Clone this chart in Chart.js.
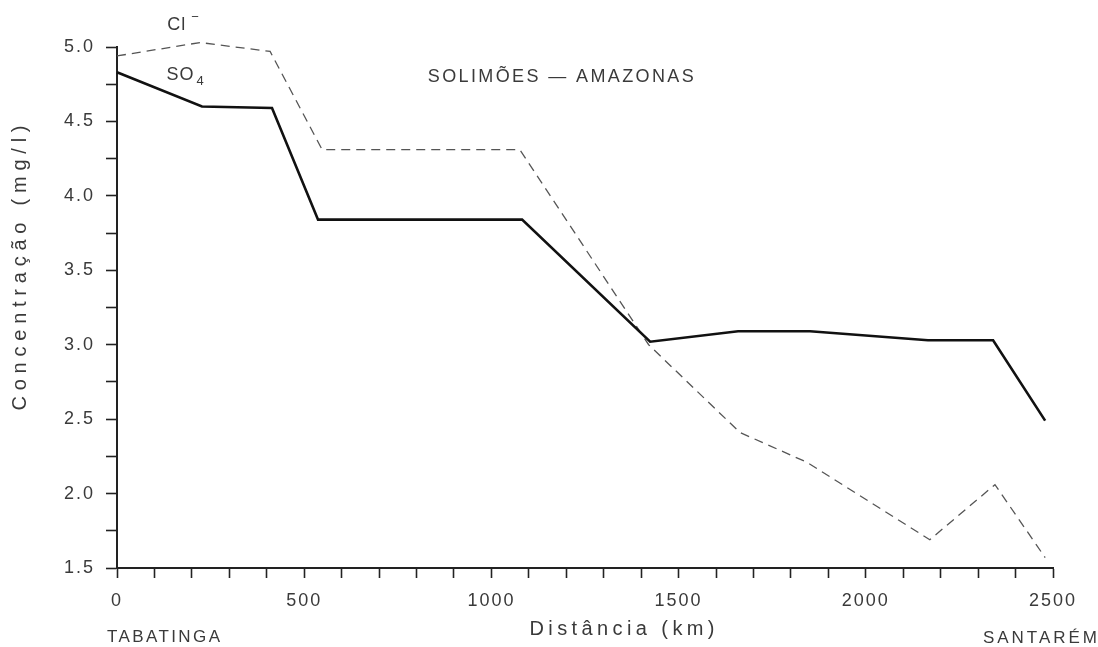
<!DOCTYPE html>
<html>
<head>
<meta charset="utf-8">
<script src="https://cdn.jsdelivr.net/npm/chart.js@4/dist/chart.umd.min.js"></script>
<style>
  html, body { margin: 0; padding: 0; background: #fff; }
  #wrap { width: 1098px; height: 647px; }
</style>
</head>
<body>
<div id="wrap"><canvas id="chart" width="1098" height="647"></canvas></div>
<script>
// distance along the river (km) and concentrations (mg/l)
const so4Km = [0, 227, 414, 537, 1082, 1424, 1659, 1851, 2166, 2340, 2479];
const so4Val = [4.83, 4.60, 4.59, 3.84, 3.84, 3.02, 3.09, 3.09, 3.03, 3.03, 2.49];
const clKm = [0, 222, 409, 548, 1076, 1420, 1664, 1843, 2171, 2345, 2479];
const clVal = [4.94, 5.03, 4.97, 4.31, 4.31, 3.00, 2.41, 2.21, 1.69, 2.06, 1.57];

const xMajor = [0, 500, 1000, 1500, 2000, 2500];
const yMajor = ['1.5', '2.0', '2.5', '3.0', '3.5', '4.0', '4.5', '5.0'];

const fontFamily = '"Liberation Sans", "DejaVu Sans", sans-serif';
const ink = '#3a3a3a';

function toPoints(xs, ys) {
    return xs.map((x, i) => ({ x: x, y: ys[i] }));
}

// draw text stretched out to a given width, like the old stencil lettering
function spaced(ctx, text, x, y, width, align) {
    ctx.letterSpacing = '0px';
    const natural = ctx.measureText(text).width;
    const gap = Math.max(0, (width - natural) / (text.length - 1));
    ctx.letterSpacing = gap + 'px';
    let left = x;
    if (align === 'center') left = x - width / 2;
    if (align === 'right') left = x - width;
    ctx.textAlign = 'left';
    ctx.fillText(text, left, y);
    ctx.letterSpacing = '0px';
}

const notes = {
    id: 'notes',
    beforeDraw(chart) {
        // a bit of air between the digits of the tick labels
        chart.ctx.letterSpacing = '2px';
    },
    afterDraw(chart) {
        const ctx = chart.ctx;
        const xs = chart.scales.x;
        const ys = chart.scales.y;
        ctx.save();
        ctx.fillStyle = ink;
        ctx.textBaseline = 'middle';

        ctx.font = '18px ' + fontFamily;
        spaced(ctx, 'Cl', xs.getPixelForValue(134), ys.getPixelForValue(5.15), 18, 'left');
        ctx.font = '13px ' + fontFamily;
        ctx.fillText('\u2212', xs.getPixelForValue(134) + 24, ys.getPixelForValue(5.20));

        ctx.font = '18px ' + fontFamily;
        spaced(ctx, 'SO', xs.getPixelForValue(132), ys.getPixelForValue(4.81), 27, 'left');
        ctx.font = '13px ' + fontFamily;
        ctx.fillText('4', xs.getPixelForValue(132) + 30, ys.getPixelForValue(4.77));

        ctx.font = '18px ' + fontFamily;
        spaced(ctx, 'SOLIMÕES — AMAZONAS', xs.getPixelForValue(830), ys.getPixelForValue(4.80), 266, 'left');

        ctx.font = '17px ' + fontFamily;
        spaced(ctx, 'TABATINGA', xs.getPixelForValue(0) - 10, 637, 113, 'left');
        spaced(ctx, 'SANTARÉM', 1097, 638, 114, 'right');

        // axis titles
        ctx.font = '20px ' + fontFamily;
        spaced(ctx, 'Distância (km)', 622, 629, 185, 'center');

        ctx.translate(20, 268);
        ctx.rotate(-Math.PI / 2);
        spaced(ctx, 'Concentração (mg/l)', 0, 0, 285, 'center');
        ctx.restore();
    }
};

new Chart(document.getElementById('chart').getContext('2d'), {
    type: 'line',
    data: {
        datasets: [
            {
                label: 'SO4',
                data: toPoints(so4Km, so4Val),
                borderColor: '#111',
                borderWidth: 2.6,
                pointRadius: 0,
                tension: 0,
                clip: false
            },
            {
                label: 'Cl',
                data: toPoints(clKm, clVal),
                borderColor: '#555',
                borderWidth: 1.3,
                borderDash: [9, 6],
                pointRadius: 0,
                tension: 0,
                clip: false
            }
        ]
    },
    options: {
        responsive: false,
        animation: false,
        layout: { padding: { left: 0, top: 47, right: 45, bottom: 0 } },
        plugins: {
            legend: { display: false },
            tooltip: { enabled: false }
        },
        scales: {
            x: {
                type: 'linear',
                min: 0,
                max: 2500,
                afterFit(scale) { scale.height = 79; },
                border: { display: true, color: '#222', width: 2 },
                grid: { drawOnChartArea: false, drawTicks: true, tickLength: 10, color: '#222', tickWidth: 1.6 },
                ticks: {
                    stepSize: 100,
                    autoSkip: false,
                    maxRotation: 0,
                    padding: 12,
                    color: ink,
                    font: { family: fontFamily, size: 18 },
                    callback: v => xMajor.includes(v) ? String(v) : ''
                },
                title: { display: false }
            },
            y: {
                type: 'linear',
                min: 1.5,
                max: 5.0,
                afterFit(scale) { scale.width = 117; },
                border: { display: true, color: '#222', width: 2 },
                grid: { drawOnChartArea: false, drawTicks: true, tickLength: 11, color: '#222', tickWidth: 1.6 },
                ticks: {
                    stepSize: 0.25,
                    autoSkip: false,
                    padding: 11,
                    color: ink,
                    font: { family: fontFamily, size: 18 },
                    callback: v => {
                        const s = v.toFixed(1);
                        return (Math.abs(v * 2 - Math.round(v * 2)) < 1e-6 && yMajor.includes(s)) ? s : '';
                    }
                },
                title: { display: false }
            }
        }
    },
    plugins: [notes]
});
</script>
</body>
</html>
